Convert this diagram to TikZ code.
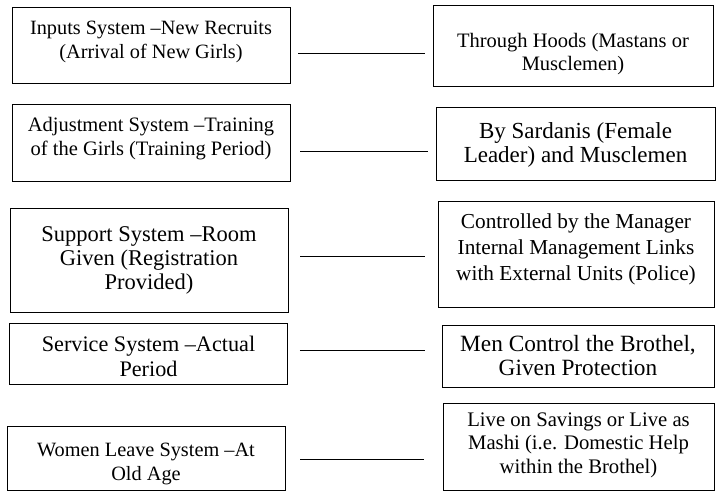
\documentclass[tikz,border=0pt]{standalone}
\usepackage{fontspec}
\setmainfont{Liberation Serif}
\begin{document}
\begin{tikzpicture}[x=1pt,y=-1pt,
  box/.style={draw=black, line width=0.8pt, rectangle, inner sep=0pt},
  txt/.style={align=center, inner sep=0pt},
  conn/.style={draw=black, line width=1pt}]
\useasboundingbox[fill=white] (0,0) rectangle (717,492);
% left boxes
\node[box, minimum width=278, minimum height=76] (l1) at (151,45) {};
\node[txt, font=\fontsize{20.3}{24}\selectfont] (t1) at ([yshift=3pt]l1.center) {Inputs System --New Recruits\\(Arrival of New Girls)};
\node[box, minimum width=278, minimum height=77] (l2) at (151,142.5) {};
\node[txt, font=\fontsize{20.5}{24}\selectfont] (t2) at ([yshift=4pt]l2.center) {Adjustment System --Training\\of the Girls (Training Period)};
\node[box, minimum width=278, minimum height=104] (l3) at (149,260) {};
\node[txt, font=\fontsize{22.5}{24}\selectfont] (t3) at ([yshift=0pt]l3.center) {Support System --Room\\Given (Registration\\Provided)};
\node[box, minimum width=278, minimum height=61] (l4) at (148.5,353.5) {};
\node[txt, font=\fontsize{22.2}{25}\selectfont] (t4) at ([yshift=-3pt]l4.center) {Service System --Actual\\Period};
\node[box, minimum width=278, minimum height=64] (l5) at (146,458) {};
\node[txt, font=\fontsize{20.3}{24}\selectfont] (t5) at ([yshift=-6pt]l5.center) {Women Leave System --At\\Old Age};
% right boxes
\node[box, minimum width=280, minimum height=81] (r1) at (573,45.5) {};
\node[txt, font=\fontsize{20.5}{23}\selectfont] (u1) at ([yshift=-9pt]r1.center) {Through Hoods (Mastans or\\Musclemen)};
\node[box, minimum width=279, minimum height=73] (r2) at (575.5,143.5) {};
\node[txt, font=\fontsize{23}{24}\selectfont] (u2) at ([yshift=-1pt]r2.center) {By Sardanis (Female\\Leader) and Musclemen};
\node[box, minimum width=276, minimum height=106] (r3) at (576,254) {};
\node[txt, font=\fontsize{21.3}{26}\selectfont] (u3) at ([yshift=5pt]r3.center) {Controlled by the Manager\\Internal Management Links\\with External Units (Police)};
\node[box, minimum width=272, minimum height=62] (r4) at (578,356) {};
\node[txt, font=\fontsize{23.3}{24}\selectfont] (u4) at (r4.center) {Men Control the Brothel,\\Given Protection};
\node[box, minimum width=271, minimum height=87] (r5) at (578.5,446.5) {};
\node[txt, font=\fontsize{20.7}{23.5}\selectfont] (u5) at ([yshift=1.5pt]r5.center) {Live on Savings or Live as\\Mashi (i.e. Domestic Help\\within the Brothel)};
% connectors
\coordinate (c1) at (0,54);
\coordinate (c2) at (0,151);
\coordinate (c3) at (0,256);
\coordinate (c4) at (0,350);
\coordinate (c5) at (0,459);
\draw[conn, shorten <=8pt, shorten >=8pt] (l1.east |- c1) -- (r1.west |- c1);
\draw[conn, shorten <=10pt, shorten >=8pt] (l2.east |- c2) -- (r2.west |- c2);
\draw[conn, shorten <=12pt, shorten >=13pt] (l3.east |- c3) -- (r3.west |- c3);
\draw[conn, shorten <=12pt, shorten >=17pt] (l4.east |- c4) -- (r4.west |- c4);
\draw[conn, shorten <=15pt, shorten >=19pt] (l5.east |- c5) -- (r5.west |- c5);
\end{tikzpicture}
\end{document}
